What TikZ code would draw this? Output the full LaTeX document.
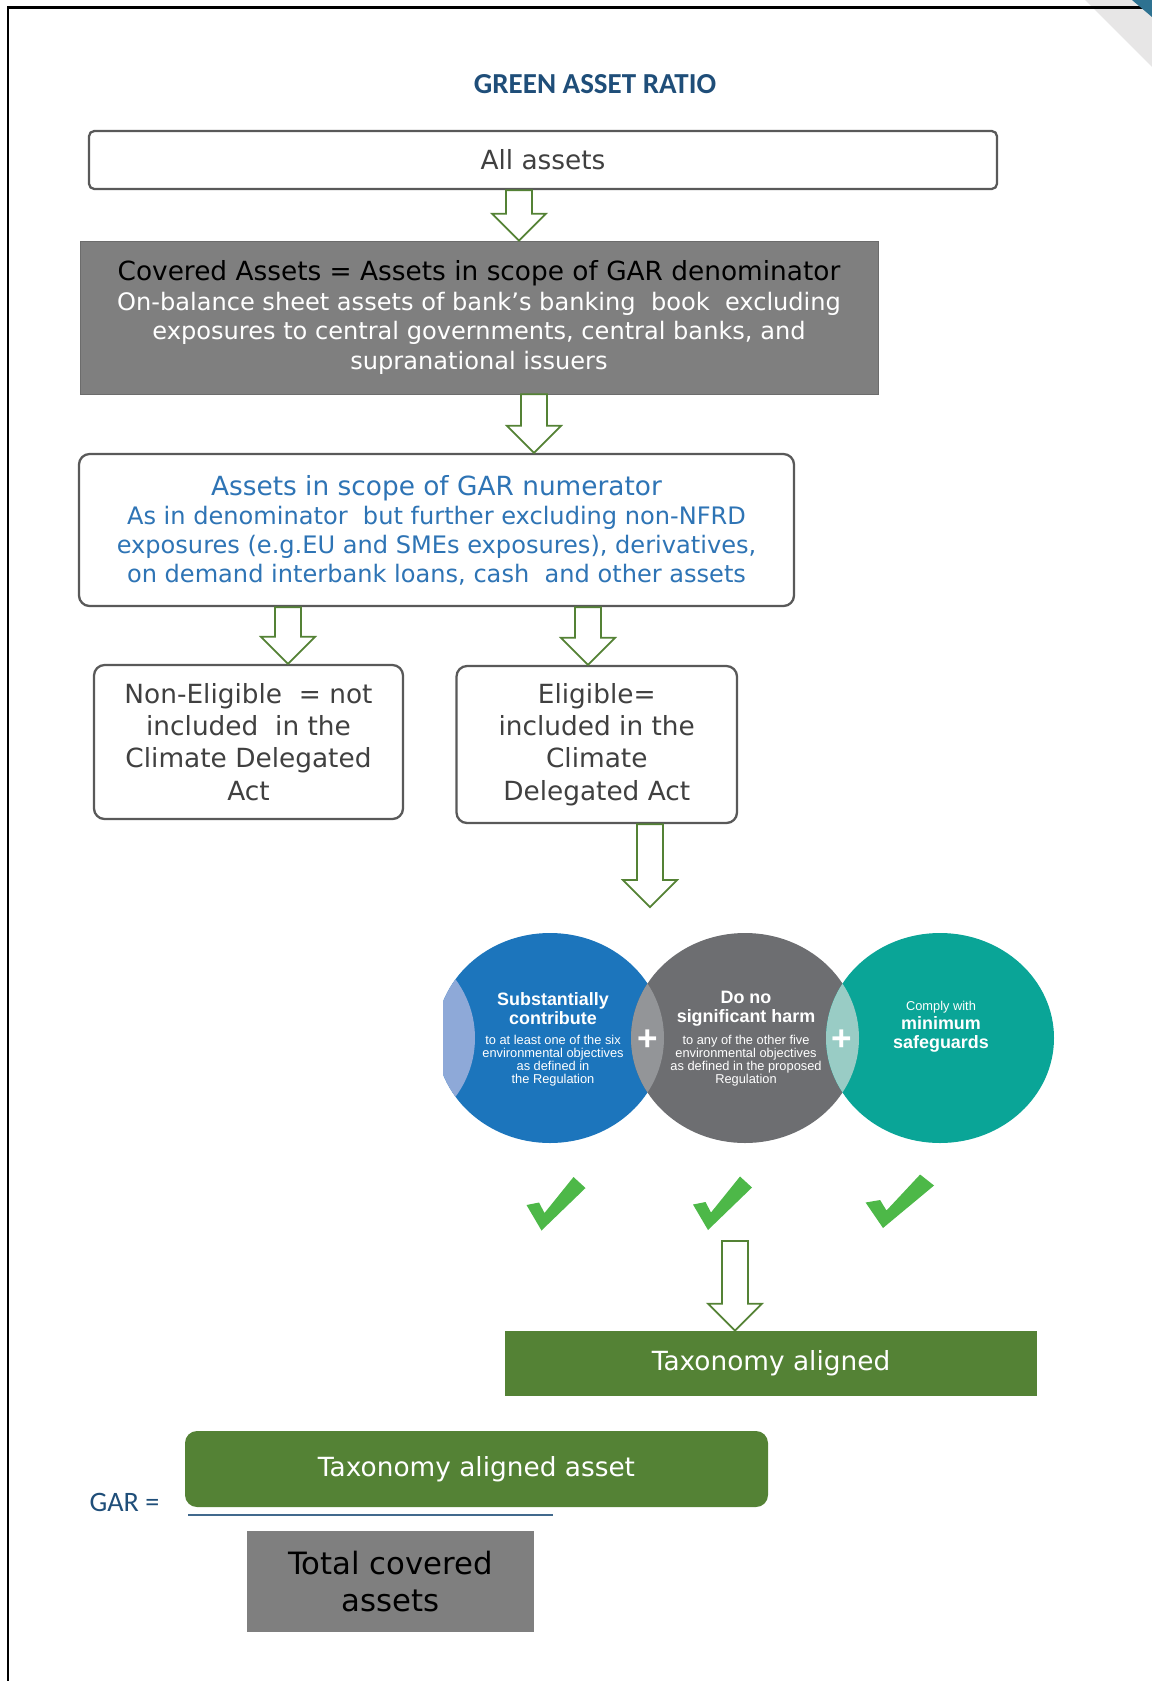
\documentclass[tikz,border=0pt]{standalone}
\usepackage{fontspec}
\setmainfont{DejaVu Sans}
\newfontfamily\calibri{Carlito}
\newfontfamily\arialf{Liberation Sans}
\usepackage{xcolor}
\usepackage{tikz}
\usetikzlibrary{positioning, calc, shapes.geometric}
\definecolor{titleblue}{HTML}{1F4E79}
\definecolor{numblue}{HTML}{2E74B5}
\definecolor{boxgrey}{HTML}{7F7F7F}
\definecolor{edgegrey}{HTML}{595959}
\definecolor{txtgrey}{HTML}{404040}
\definecolor{leaf}{HTML}{548235}
\definecolor{tick}{HTML}{4DB848}
\definecolor{scblue}{HTML}{1C75BC}
\definecolor{scbluelens}{HTML}{8EA9D8}
\definecolor{dnshgrey}{HTML}{6D6E71}
\definecolor{dnshlens}{HTML}{939598}
\definecolor{msteal}{HTML}{0AA597}
\definecolor{mslens}{HTML}{99CCC5}
\definecolor{cornerteal}{HTML}{2E7291}
\definecolor{cornergrey}{HTML}{E7E6E6}
\newcommand{\hollowarrow}[3]{%
  \path let \p1=(#2), \p2=(#3) in
    (#1,\y1) coordinate (ha) (#1,\y2) coordinate (hb);
  \draw[hollow]
    ([xshift=-0.26cm]ha) -- ([shift={(-0.26,0.54)}]hb)
    -- ([shift={(-0.54,0.54)}]hb) -- (hb)
    -- ([shift={(0.54,0.54)}]hb) -- ([shift={(0.26,0.54)}]hb)
    -- ([xshift=0.26cm]ha) -- cycle;%
}

\begin{document}
\begin{tikzpicture}[
  plain/.style={rectangle, draw=edgegrey, line width=1.3pt, rounded corners=3pt, fill=white, text=txtgrey, align=center, inner sep=0pt, font=\fontsize{15}{18.3}\selectfont},
  covered/.style={rectangle, draw=boxgrey!85!black, fill=boxgrey, text=white, align=center, inner sep=0pt, font=\fontsize{13.7}{17}\selectfont},
  numer/.style={plain, rounded corners=6pt, text=numblue, font=\fontsize{13.7}{16.5}\selectfont},
  choice/.style={plain, rounded corners=6pt},
  greenbar/.style={rectangle, fill=leaf, text=white, align=center, inner sep=0pt, font=\fontsize{15}{18}\selectfont},
  pillar/.style={ellipse, minimum width=4.56cm, minimum height=4.2cm, inner sep=0pt},
  ptitle/.style={font=\arialf\bfseries\fontsize{10.2}{10.8}\selectfont, text=white, align=center, inner sep=0pt},
  pnote/.style={font=\arialf\fontsize{7.3}{7.45}\selectfont, text=white, align=center, inner sep=0pt},
  plus/.style={font=\arialf\bfseries\fontsize{20}{20}\selectfont, text=white, inner sep=0pt},
  hollow/.style={draw=leaf, fill=white, line width=1pt, line join=miter}
]
\useasboundingbox (0,0) rectangle (23.04,-33.62);

% ===== Page frame =====
\fill[cornergrey] (21.70,0) -- (23.04,0) -- (23.04,-1.34) -- cycle;
\draw[line width=1.7pt] (0.16,-33.62) -- (0.16,-0.15) -- (23.04,-0.15);
\fill[cornerteal] (22.64,0) -- (23.04,0) -- (23.04,-0.34) -- cycle;

\node[font=\calibri\bfseries\fontsize{16.5}{19}\selectfont, text=titleblue] (title) at (11.9,-1.68) {GREEN ASSET RATIO};

% ===== Boxes =====
\node[plain, minimum width=18.16cm, minimum height=1.16cm] (all) at (10.86,-3.20) {All assets};
\node[covered, minimum width=15.96cm, minimum height=3.06cm] (cov) at (9.58,-6.35) {{\fontsize{15}{17}\selectfont\color{black}Covered Assets = Assets in scope of GAR denominator}\\On-balance sheet assets of bank’s banking\ \ book\ \ excluding\\exposures to central governments, central banks, and\\supranational issuers};
\node[numer, minimum width=14.30cm, minimum height=3.04cm] (num) at (8.73,-10.60) {{\fontsize{15}{16.5}\selectfont Assets in scope of GAR numerator}\\As in denominator\ \ but further excluding non-NFRD\\exposures (e.g.EU and SMEs exposures), derivatives,\\on demand interbank loans, cash\ \ and other assets};
\node[choice, minimum width=6.18cm, minimum height=3.08cm] (noneli) at (4.97,-14.84) {Non-Eligible\ \ = not\\included\ \ in the\\Climate Delegated\\Act};
\node[choice, minimum width=5.61cm, minimum height=3.14cm] (eli) at (11.935,-14.89) {Eligible=\\included in the\\Climate\\Delegated Act};

% ===== Three conditions =====
\begin{scope}
  \clip (8.86,-18) rectangle (13.5,-23.5);
  \node[pillar, fill=scblue] (sc) at (11.00,-20.76) {};
  \clip (sc.center) ellipse [x radius=2.28, y radius=2.1];
  \fill[scbluelens] (7.22,-20.76) ellipse [x radius=2.28, y radius=2.1];
\end{scope}
\node[pillar, fill=dnshgrey] (dnsh) at (14.90,-20.76) {};
\begin{scope}
  \clip (dnsh.center) ellipse [x radius=2.28, y radius=2.1];
  \fill[dnshlens] (sc.center) ellipse [x radius=2.28, y radius=2.1];
\end{scope}
\node[pillar, fill=msteal] (ms) at (18.80,-20.76) {};
\begin{scope}
  \clip (ms.center) ellipse [x radius=2.28, y radius=2.1];
  \fill[mslens] (dnsh.center) ellipse [x radius=2.28, y radius=2.1];
\end{scope}

\node[ptitle] (schead) at (11.06,-20.17) {Substantially\\contribute};
\node[pnote] (scnote) at (11.06,-21.21) {to at least one of the six\\environmental objectives\\as defined in\\the Regulation};
\node[ptitle] (dnshhead) at (14.92,-20.17) {Do no\\significant harm};
\node[pnote] (dnshnote) at (14.92,-21.21) {to any of the other five\\environmental objectives\\as defined in the proposed\\Regulation};
\node[pnote] (mslead) at (18.82,-20.14) {Comply with};
\node[ptitle] (mshead) at (18.82,-20.69) {minimum\\safeguards};
\node[plus] (plus1) at (12.96,-20.80) {+};
\node[plus] (plus2) at (16.84,-20.80) {+};

% ticks under each condition
\foreach \cx/\cy/\sx in {10.83/-24.61/1, 14.16/-24.60/1, 17.66/-24.56/1.16}{
  \begin{scope}[shift={(\cx,\cy)}, xscale=\sx]
    \fill[tick] (0,0) -- (-0.30,0.51) -- (-0.05,0.56) -- (0.06,0.35) -- (0.64,1.07) -- (0.88,0.85) -- cycle;
  \end{scope}
}

% ===== Result and ratio =====
\node[greenbar, minimum width=10.64cm, minimum height=1.30cm] (taxal) at (15.42,-27.27) {Taxonomy aligned};
\node[greenbar, rounded corners=0.24cm, minimum width=11.66cm, minimum height=1.52cm] (garnum) at (9.53,-29.38) {Taxonomy aligned asset};
\node[font=\calibri\fontsize{16}{19}\selectfont, text=titleblue] (gar) at (2.49,-30.04) {GAR =};
\draw[titleblue!85, line width=1.1pt] (3.76,-30.30) -- (11.06,-30.30);
\node[rectangle, fill=boxgrey, text=black, align=center, inner sep=0pt, font=\fontsize{17.5}{21.6}\selectfont, minimum width=5.74cm, minimum height=2.02cm] (total) at (7.81,-31.63) {Total covered\\assets};

% ===== Block arrows =====
\coordinate (pillars) at (13.00,-18.14);
\coordinate (ticks) at (14.70,-24.82);
\hollowarrow{10.38cm}{all.south}{cov.north}
\hollowarrow{10.68cm}{cov.south}{num.north}
\hollowarrow{5.76cm}{num.south}{noneli.north}
\hollowarrow{11.76cm}{num.south}{eli.north}
\hollowarrow{13.00cm}{eli.south}{pillars}
\hollowarrow{14.70cm}{ticks}{taxal.north}

\end{tikzpicture}
\end{document}
